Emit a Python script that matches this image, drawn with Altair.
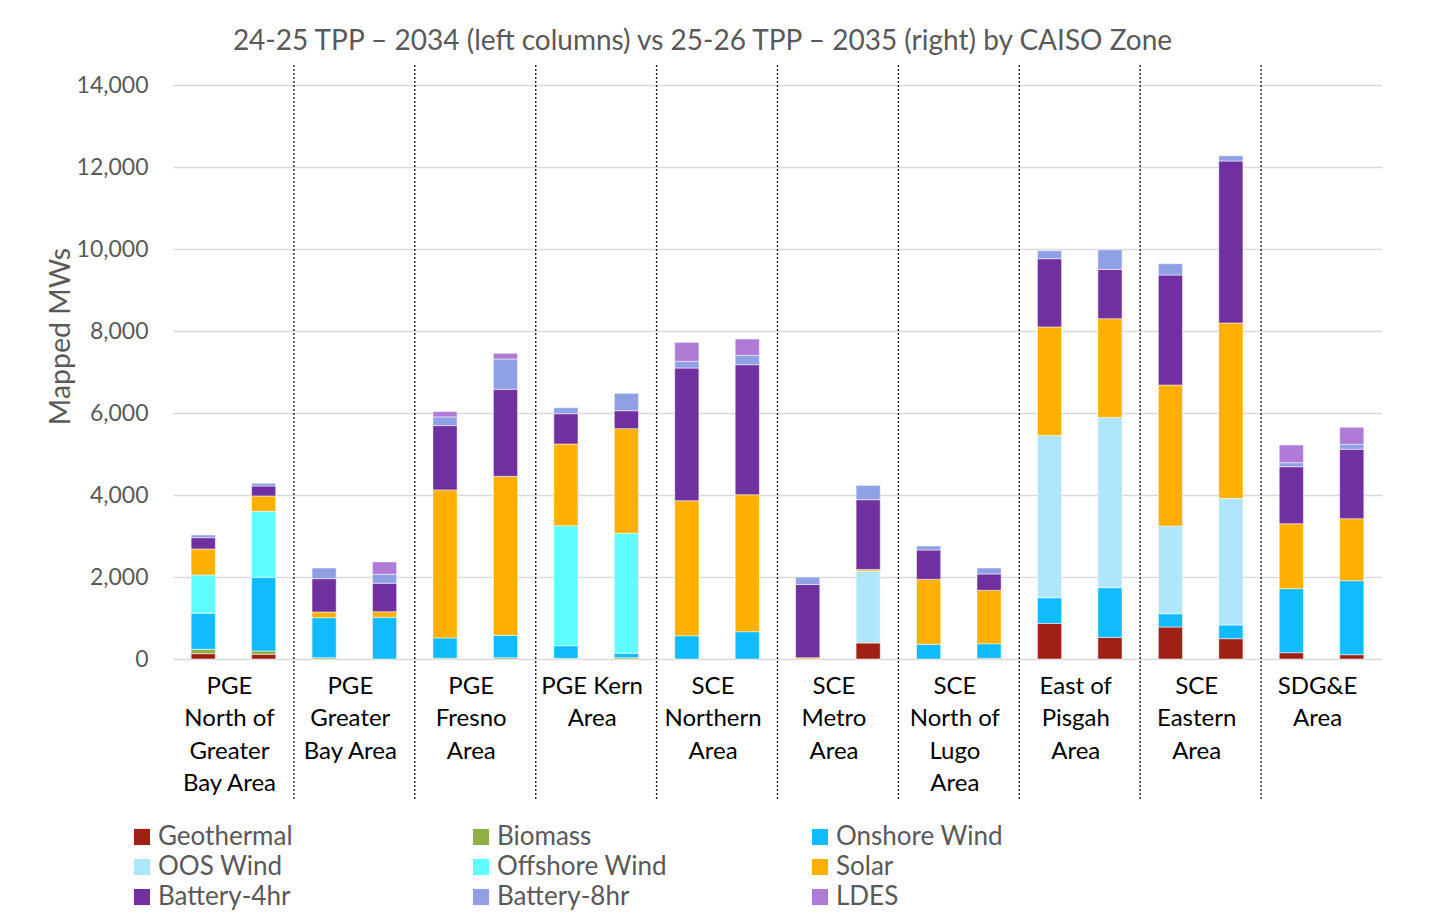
import altair as alt
import pandas as pd

zones = [
    "PGE North of Greater Bay Area", "PGE Greater Bay Area", "PGE Fresno Area",
    "PGE Kern Area", "SCE Northern Area", "SCE Metro Area", "SCE North of Lugo Area",
    "East of Pisgah Area", "SCE Eastern Area", "SDG&E Area",
]
zone_labels = [
    "PGE\nNorth of\nGreater\nBay Area", "PGE\nGreater\nBay Area", "PGE\nFresno\nArea",
    "PGE Kern\nArea", "SCE\nNorthern\nArea", "SCE\nMetro\nArea", "SCE\nNorth of\nLugo\nArea",
    "East of\nPisgah\nArea", "SCE\nEastern\nArea", "SDG&E\nArea",
]
periods = ["24-25 TPP – 2034", "25-26 TPP – 2035"]

sources = ["Geothermal", "Biomass", "Onshore Wind", "OOS Wind", "Offshore Wind",
           "Solar", "Battery-4hr", "Battery-8hr", "LDES"]
colors = ["#A12015", "#8FAE45", "#10BCFF", "#AFE6FB", "#60FFFF",
          "#FFB000", "#7030A0", "#8FA0E5", "#AF7BD6"]

# values per bar: (zone, left/right) pairs in zone order
geothermal = [130, 115, 0, 0, 0, 0, 0, 0, 0, 0, 0, 390, 0, 17, 868, 527, 780, 495, 154, 105]
biomass = [107, 80, 32, 0, 20, 32, 17, 32, 0, 0, 0, 0, 0, 0, 0, 0, 0, 0, 0, 0]
onshore_wind = [878, 1798, 976, 1017, 495, 546, 307, 107, 568, 666, 0, 0, 358, 356, 627, 1212, 324, 334, 1561, 1805]
oos_wind = [0, 0, 0, 0, 0, 0, 0, 0, 0, 0, 0, 1756, 0, 0, 3959, 4154, 2139, 3090, 0, 0]
offshore_wind = [934, 1610, 0, 0, 0, 0, 2927, 2927, 0, 0, 0, 0, 0, 0, 0, 0, 0, 0, 0, 0]
solar = [634, 373, 139, 137, 3610, 3878, 1993, 2551, 3293, 3341, 30, 39, 1585, 1302, 2644, 2407, 3439, 4276, 1585, 1512]
battery_4hr = [276, 244, 812, 693, 1568, 2122, 739, 439, 3236, 3171, 1788, 1700, 715, 398, 1666, 1202, 2683, 3951, 1390, 1693]
battery_8hr = [66, 66, 260, 220, 212, 739, 146, 424, 163, 229, 180, 349, 98, 146, 195, 480, 276, 129, 98, 122]
ldes = [0, 0, 0, 300, 130, 139, 0, 0, 463, 398, 0, 0, 0, 0, 0, 0, 0, 0, 432, 415]

series = [geothermal, biomass, onshore_wind, oos_wind, offshore_wind,
          solar, battery_4hr, battery_8hr, ldes]

rows = []
for si, (s, vals) in enumerate(zip(sources, series)):
    for i, v in enumerate(vals):
        if v > 0:
            rows.append({"zone": zones[i // 2], "period": periods[i % 2],
                         "source": s, "ord": si, "mw": v})
df = pd.DataFrame(rows)

FONT = "Lato"
GRAY = "#595959"

x_enc = alt.X("zone:N", sort=zones, scale=alt.Scale(paddingInner=0, paddingOuter=0), axis=None)

bars = alt.Chart(df).mark_bar(stroke="white", strokeWidth=1, strokeOpacity=0.5).encode(
    x=x_enc,
    xOffset=alt.XOffset("period:N", sort=periods,
                        scale=alt.Scale(paddingInner=0.6, paddingOuter=0.3)),
    y=alt.Y("mw:Q", stack="zero",
            scale=alt.Scale(domain=[0, 14000], nice=False),
            title="Mapped MWs",
            axis=alt.Axis(values=list(range(0, 14001, 2000)), format=",.0f",
                          labelFontSize=23, labelFont=FONT, labelColor=GRAY,
                          labelPadding=25, ticks=False, domain=False,
                          grid=True, gridColor="#d9d9d9", gridWidth=1.5,
                          titleFontSize=28.5, titleFont=FONT, titleColor=GRAY,
                          titleFontWeight="normal", titleAngle=270,
                          titleX=-113, titleY=251, titleAlign="center",
                          titleBaseline="middle")),
    color=alt.Color("source:N", sort=sources,
                    scale=alt.Scale(domain=sources, range=colors),
                    legend=alt.Legend(orient="none", legendX=-44, legendY=739,
                                      columns=3, direction="horizontal", title=None,
                                      symbolType="square",
                                      symbolSize=260, symbolStrokeWidth=0,
                                      labelFontSize=26, labelFont=FONT,
                                      labelColor=GRAY, labelOffset=3,
                                      columnPadding=140, rowPadding=4,
                                      gridAlign="all", padding=0, labelLimit=400)),
    order=alt.Order("ord:Q", sort="ascending"),
)

sep_df = pd.DataFrame({"zone": zones[1:]})
seps = alt.Chart(sep_df).mark_rule(color="#222222", strokeDash=[2, 2], strokeWidth=1.4).encode(
    x=alt.X("zone:N", sort=zones, bandPosition=0),
    y=alt.value(-20),
    y2=alt.value(716),
)

lab_df = pd.DataFrame({"zone": zones, "label": zone_labels})
labels = alt.Chart(lab_df).mark_text(
    lineBreak="\n", baseline="top", align="center", fontSize=24, font=FONT,
    color="#000000", lineHeight=32.3, dx=-4,
).encode(
    x=alt.X("zone:N", sort=zones),
    y=alt.value(590),
    text="label:N",
)

chart = alt.layer(bars, seps, labels).properties(
    width=1209, height=574,
    title=alt.TitleParams(
        "24-25 TPP – 2034 (left columns) vs 25-26  TPP – 2035 (right) by CAISO Zone",
        fontSize=28, font=FONT, color=GRAY, fontWeight="normal",
        anchor="middle", dx=-75, offset=8),
    autosize=alt.AutoSizeParams(type="none"),
    padding={"left": 165, "top": 77, "right": 39, "bottom": 252},
).configure_view(stroke=None)

chart.save("out.html", embed_options={"renderer": "svg", "actions": False})
